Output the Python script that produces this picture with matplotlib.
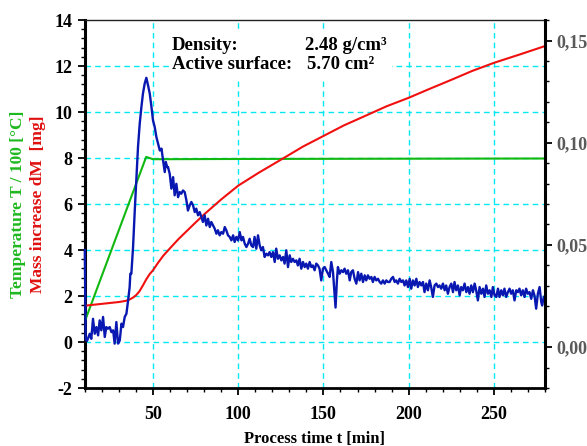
import matplotlib
matplotlib.use("Agg")
import matplotlib.pyplot as plt
from matplotlib.ticker import MultipleLocator, FuncFormatter
from matplotlib.patches import Rectangle

# ---- data -------------------------------------------------------------
temp_t = [10, 46, 48, 50, 55, 100, 180, 280]
temp_v = [0.9, 8.05, 8.0, 7.95, 7.95, 7.96, 7.97, 7.98]

mass_t = [10, 20, 30, 34, 36, 38, 40, 42, 44, 46, 48, 50, 53, 56, 60, 65, 70, 75,
          80, 90, 100, 112, 126, 138, 150, 162, 175, 187, 200, 212, 225, 237,
          250, 265, 280]
mass_v = [1.58, 1.66, 1.74, 1.79, 1.84, 1.92, 2.03, 2.2, 2.45, 2.72, 2.95, 3.12,
          3.45, 3.75, 4.08, 4.48, 4.84, 5.2, 5.55, 6.2, 6.8, 7.36, 7.97, 8.5,
          8.96, 9.42, 9.85, 10.25, 10.62, 11.0, 11.4, 11.78, 12.14, 12.5, 12.87]

rate_t = [10.0, 10.5, 11.3, 12.9, 13.8, 14.8, 15.8, 16.8, 17.8, 18.7, 19.7, 20.7,
          21.7, 22.6, 23.6, 24.6, 25.6, 26.6, 27.5, 28.5, 29.5, 30.5, 31.5, 32.4,
          33.4, 34.4, 35.4, 36.3, 36.7, 37.3, 38.3, 39.3, 40.2, 41.2, 42.2, 43.2,
          44.1, 45.1, 46.1, 47.1, 48.1, 49.1, 50.0, 51.0, 52.0, 53.0, 54.0, 55.0,
          55.9, 56.9, 57.5, 58.3,
          58.8, 59.8, 60.8, 61.8, 62.7, 63.7, 64.7, 65.7, 66.6, 67.6, 68.6, 69.6,
          70.5, 71.5, 72.5, 73.5, 74.5, 75.4, 76.4, 77.4, 78.4, 79.3, 80.3, 81.3,
          82.3, 83.3, 84.2, 85.2, 86.2, 87.2, 88.1, 89.1, 90.1, 91.1, 92.1, 93.0,
          94.0, 95.0, 96.0, 97.0, 97.9, 98.9, 99.9, 100.9, 101.9, 102.8, 103.8,
          104.8, 105.8,
          106.7, 107.7, 108.7, 109.6, 110.6, 111.6, 112.6, 113.5, 114.5, 115.5,
          116.5, 117.5, 118.4, 119.4, 120.4, 121.4, 122.3, 123.3, 124.3, 125.3,
          126.3, 127.2, 128.2, 129.2, 130.2, 131.1, 132.1, 133.1, 134.1, 135.0,
          136.0, 137.0, 138.0, 139.0, 139.9, 140.9, 141.9, 142.9, 143.8, 144.8,
          145.8, 146.8, 147.7, 148.7, 149.7, 150.7, 151.7, 152.7, 153.6, 154.6,
          155.6, 156.6, 157.1, 157.9,
          158.5, 159.5, 160.5, 161.5, 162.4, 163.4, 164.4, 165.4, 166.3, 167.3,
          168.3, 169.3, 170.3, 171.2, 172.2, 173.2, 174.2, 175.1, 176.1, 177.1,
          178.1, 179.0, 180.0, 181.0, 182.0, 183.0, 183.9, 184.9, 185.9, 186.9,
          187.8, 188.8, 189.8, 190.8, 191.8, 192.7, 193.7, 194.7, 195.7, 196.7,
          197.6, 198.6, 199.6, 200.6, 201.5, 202.5, 203.5, 204.5, 205.4,
          206.4, 207.4, 208.4, 209.3, 210.3, 211.3, 212.3, 213.2, 214.2, 215.2,
          216.2, 217.2, 218.1, 219.1, 220.1, 221.1, 222.0, 223.0, 224.0, 225.0,
          226.0, 226.9, 227.9, 228.9, 229.9, 230.8, 231.8, 232.8, 233.8, 234.8,
          235.7, 236.7, 237.7, 238.7, 239.6, 240.6, 241.6, 242.6, 243.6, 244.5,
          245.5, 246.5, 247.5, 248.5, 249.4, 250.4, 251.4, 252.4, 253.3,
          254.3, 255.3, 256.2, 257.2, 258.2, 259.2, 260.1, 261.1, 262.1, 263.1,
          264.1, 265.0, 266.0, 267.0, 268.0, 268.9, 269.9, 270.9, 271.9, 272.9,
          273.8, 274.8, 275.8, 276.8, 277.8, 278.3, 279.3]
rate_v = [4.0, 0.1, 0.05, 0.36, 0.14, 1.01, 0.36, 0.65, 0.29, 0.94, 0.51, 1.09,
          0.22, 0.65, 0.58, 0.65, 0.43, 0.51, -0.07, 0.87, -0.07, 0.07, 0.8, 0.65,
          1.09, 1.23, 1.81, 2.39, 2.97, 2.97, 4.13, 5.72, 7.03, 8.48, 9.49, 10.22,
          10.8, 11.23, 11.49, 11.16, 10.8, 10.22, 9.64, 9.35, 8.91, 8.62, 8.33, 8.41,
          7.9, 7.39, 7.83, 7.61,
          7.61, 7.32, 6.67, 7.17, 6.38, 6.88, 6.3, 6.52, 6.45, 6.59, 6.52, 6.16,
          5.72, 5.94, 6.09, 5.94, 5.65, 5.8, 5.51, 5.65, 5.43, 5.22, 5.51, 5.07,
          5.36, 5.0, 5.22, 5.07, 4.93, 4.71, 4.86, 4.64, 4.78, 4.71, 5.0, 4.86,
          4.64, 4.57, 4.42, 4.64, 4.35, 4.57, 4.42, 4.78, 4.42, 4.57, 4.28,
          4.13, 4.28,
          4.49, 4.2, 4.13, 4.57, 4.06, 4.64, 4.2, 3.99, 4.13, 3.7,
          3.84, 3.77, 3.91, 3.7, 3.91, 3.48, 4.06, 3.62, 3.77, 3.55,
          3.7, 3.41, 3.99, 3.26, 3.77, 3.48, 3.62, 3.48, 3.55, 3.33,
          3.62, 3.19, 3.48, 3.26, 3.41, 3.19, 3.48, 3.26, 3.33, 3.12,
          3.41, 3.33, 3.19, 2.68, 3.19, 3.26, 3.12, 2.97, 2.83, 3.48,
          3.04, 2.03, 1.50, 2.68,
          3.26, 2.97, 3.12, 3.04, 3.19, 2.97, 3.12, 2.68, 3.04, 3.12,
          2.75, 2.54, 3.04, 2.68, 2.97, 2.61, 2.9, 2.68, 2.9, 2.75,
          2.83, 2.61, 2.83, 2.68, 2.75, 2.61, 2.54, 2.68, 2.54, 2.68,
          2.61, 2.61, 2.75, 2.83, 2.61, 2.68, 2.54, 2.75, 2.61, 2.68,
          2.46, 2.68, 2.39, 2.75, 2.32, 2.68, 2.46, 2.75, 2.39,
          2.61, 2.46, 2.61, 2.17, 2.54, 2.25, 2.68, 2.39, 1.96, 2.46,
          2.54, 2.39, 2.46, 2.32, 2.54, 2.25, 2.46, 2.1, 2.39, 2.54,
          2.17, 2.61, 2.25, 2.46, 2.03, 2.39, 2.25, 2.54, 2.17, 2.39,
          2.1, 2.46, 2.17, 2.54, 2.25, 1.81, 2.39, 2.1, 2.32, 1.96,
          2.46, 2.1, 2.25, 1.96, 2.39, 2.03, 1.96, 2.32, 1.96,
          2.25, 2.03, 2.32, 1.96, 2.17, 2.32, 2.1, 2.25, 1.81, 2.25,
          2.17, 2.32, 2.03, 2.25, 1.96, 2.32, 2.1, 2.17, 1.88, 2.25,
          2.03, 1.45, 2.1, 2.39, 1.74, 1.59, 1.96]

x_ticks = [50, 100, 150, 200, 250]
left_ticks = [-2, 0, 2, 4, 6, 8, 10, 12, 14]
right_ticks = [0.00, 0.05, 0.10, 0.15]

# ---- style ------------------------------------------------------------
plt.rcParams["font.family"] = ["Liberation Serif", "DejaVu Serif"]
plt.rcParams["font.weight"] = "bold"
plt.rcParams["axes.unicode_minus"] = False
GRID = "#00e8f0"
FS = 13
FS_INFO = 13.5

fig = plt.figure(figsize=(5.87, 4.46), dpi=100)
ax = fig.add_axes([0.1445, 0.130, 0.784, 0.825])

ax.set_xlim(10, 280)
ax.set_ylim(-2, 14)

# dashed cyan grid
for xv in x_ticks:
    ax.axvline(xv, color=GRID, lw=1.0, ls=(0, (4, 3)), zorder=0.5)
for yv in range(0, 14, 2):
    ax.axhline(yv, color=GRID, lw=1.0, ls=(0, (4, 3)), zorder=0.5)

# white panel behind the sample info
ax.add_patch(Rectangle((0.185, 0.837), 0.4825, 0.128, transform=ax.transAxes,
                       facecolor="white", edgecolor="none", zorder=1))

ax.plot(temp_t, temp_v, color="#10b810", lw=1.5, zorder=3)
ax.plot(mass_t, mass_v, color="#f01010", lw=1.5, zorder=3)
ax.plot(rate_t, rate_v, color="#0818b0", lw=1.7, zorder=4, clip_on=False)

ax.text(0.1895, 0.932, "Density:", transform=ax.transAxes, fontsize=FS_INFO,
        fontweight="bold", va="center", ha="left", zorder=5)
ax.text(0.4785, 0.932, "2.48 g/cm³", transform=ax.transAxes, fontsize=FS_INFO,
        fontweight="bold", va="center", ha="left", zorder=5)
ax.text(0.1895, 0.878, "Active surface:", transform=ax.transAxes, fontsize=FS_INFO,
        fontweight="bold", va="center", ha="left", zorder=5)
ax.text(0.4820, 0.878, "5.70 cm²", transform=ax.transAxes, fontsize=FS_INFO,
        fontweight="bold", va="center", ha="left", zorder=5)

# axes, ticks
ax.set_xticks(x_ticks)
ax.xaxis.set_minor_locator(MultipleLocator(10))
ax.set_yticks(left_ticks)
ax.yaxis.set_minor_locator(MultipleLocator(0.4))
ax.tick_params(axis="both", which="major", direction="out", length=5, width=1.3,
               labelsize=FS)
ax.tick_params(axis="both", which="minor", direction="out", length=3, width=1.0)
ax.tick_params(axis="x", which="major", pad=8)
ax.tick_params(axis="y", which="major", pad=4)
for lab in ax.get_xticklabels() + ax.get_yticklabels():
    lab.set_fontweight("bold")

for side, lw in (("left", 2.2), ("bottom", 2.0), ("top", 1.0)):
    ax.spines[side].set_linewidth(lw)
ax.spines["top"].set_color("#222222")

ax.set_xlabel("Process time t [min]", fontsize=12, fontweight="bold", labelpad=6)

# right-hand scale
ax2 = ax.twinx()
ax2.set_ylim(-0.02, 0.16)
ax2.set_yticks(right_ticks)
ax2.yaxis.set_minor_locator(MultipleLocator(0.01))
ax2.yaxis.set_major_formatter(FuncFormatter(lambda v, p: f"{v:.2f}".replace(".", ",")))
ax2.tick_params(axis="y", which="major", direction="out", length=5, width=1.3,
                labelsize=FS, labelcolor="#5a5a5a", pad=3)
ax2.tick_params(axis="y", which="minor", direction="out", length=3, width=1.0)
for lab in ax2.get_yticklabels():
    lab.set_fontweight("bold")
ax2.spines["right"].set_linewidth(2.2)
for side in ("left", "bottom", "top"):
    ax2.spines[side].set_visible(False)

# two-colour y label
fig.text(18.5 / 587, 0.5426, "Temperature T / 100 [°C]", rotation=90,
         color="#1fb81f", fontsize=12.5, fontweight="bold", ha="center", va="center")
fig.text(38.5 / 587, 0.5426, "Mass increase dM  [mg]", rotation=90,
         color="#e01010", fontsize=12.5, fontweight="bold", ha="center", va="center")

fig.savefig("out.png", dpi=100)
